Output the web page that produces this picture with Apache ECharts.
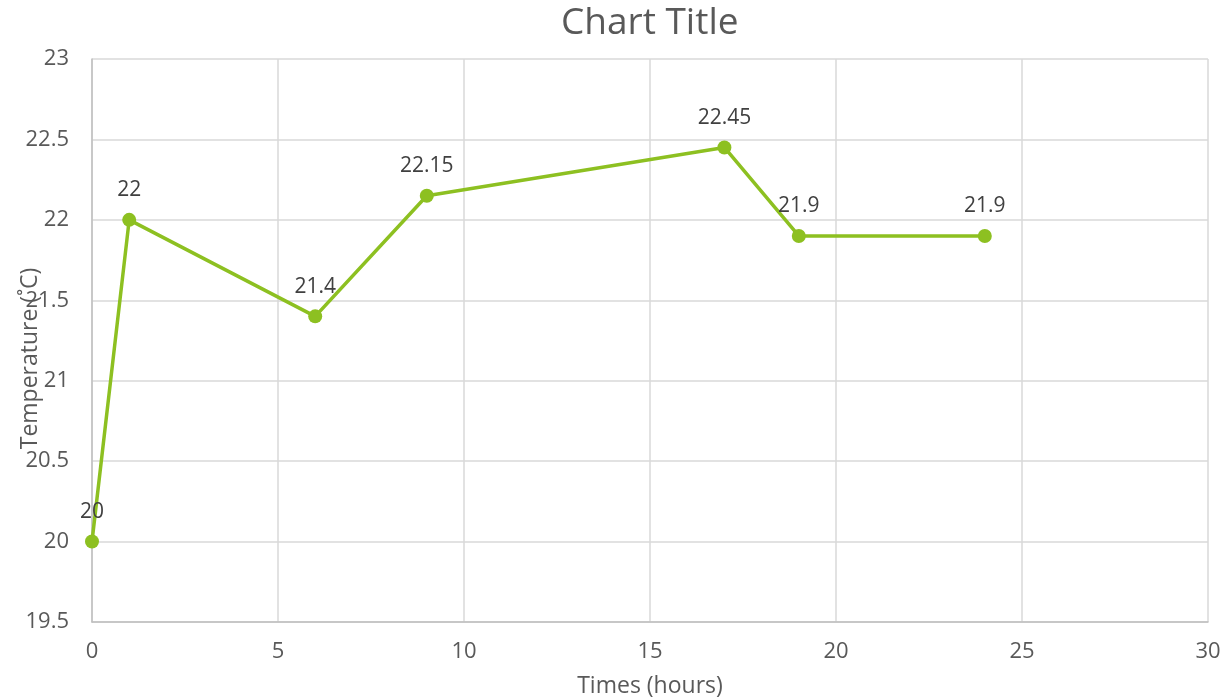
<!DOCTYPE html>
<html><head><meta charset="utf-8">
<script src="https://cdn.jsdelivr.net/npm/echarts@6/dist/echarts.min.js"></script>
<style>html,body{margin:0;padding:0;background:#fff}#c{width:1224px;height:698px}</style>
</head><body><div id="c"></div>
<script>
const times = [0, 1, 6, 9, 17, 19, 24];
const temps = [20, 22, 21.4, 22.15, 22.45, 21.9, 21.9];
const xTicks = [0, 5, 10, 15, 20, 25, 30];
const yTicks = [19.5, 20, 20.5, 21, 21.5, 22, 22.5, 23];
const titleText = 'Chart Title';
const xName = 'Times (hours)';
const yName = 'Temperature (˚C)';

const font = '"Open Sans", "DejaVu Sans", sans-serif';
const chart = echarts.init(document.getElementById('c'));
chart.setOption({
  animation: false,
  title: { text: titleText, left: 556, top: 0,
    textStyle: { fontFamily: font, fontSize: 37, fontWeight: 'normal', color: '#595959' } },
  grid: { left: 92, right: 16, top: 59, bottom: 76, containLabel: false, outerBoundsMode: 'none' },
  xAxis: {
    type: 'value', min: xTicks[0], max: xTicks[xTicks.length-1], interval: 5,
    name: xName, nameLocation: 'middle', nameGap: 53, nameMoveOverlap: false,
    nameTextStyle: { fontFamily: font, fontSize: 23, color: '#595959' },
    axisLine: { show: true, lineStyle: { color: '#bfbfbf', width: 1.5 } },
    axisTick: { show: false },
    axisLabel: { fontFamily: font, fontSize: 22, color: '#595959', margin: 19 },
    splitLine: { show: true, lineStyle: { color: '#d9d9d9', width: 1.5 } }
  },
  yAxis: {
    type: 'value', min: yTicks[0], max: yTicks[yTicks.length-1], interval: 0.5,
    name: yName, nameLocation: 'middle', nameGap: 50, nameRotate: 90, nameMoveOverlap: false,
    nameTextStyle: { fontFamily: font, fontSize: 23, color: '#595959', padding: [0, 36, 0, 0] },
    axisLine: { show: true, lineStyle: { color: '#bfbfbf', width: 1.5 } },
    axisTick: { show: false },
    axisLabel: { fontFamily: font, fontSize: 22, color: '#595959', margin: 23 },
    splitLine: { show: true, lineStyle: { color: '#d9d9d9', width: 1.5 } }
  },
  series: [{
    type: 'line',
    data: times.map((t, i) => [t, temps[i]]),
    symbol: 'circle', symbolSize: 14,
    lineStyle: { color: '#8dc021', width: 3.5 },
    itemStyle: { color: '#8dc021' },
    label: { show: true, position: 'top', distance: 12,
      fontFamily: font, fontSize: 21, color: '#404040' }
  }]
});
</script></body></html>
